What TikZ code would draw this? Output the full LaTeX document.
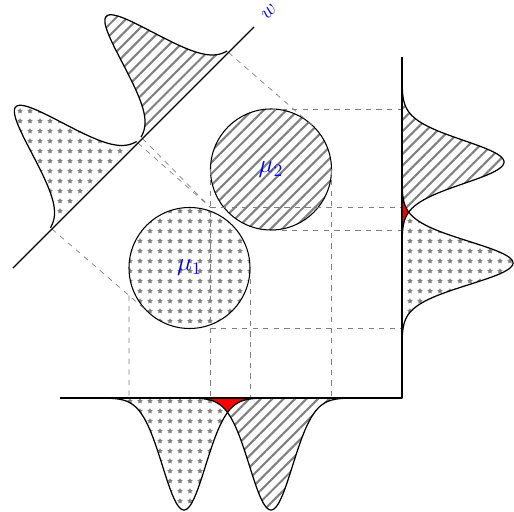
\documentclass[tikz,border=0pt]{standalone}
\usepackage{amsmath,amssymb}
\usetikzlibrary{patterns.meta}

% bell profiles: bottom axis, right axis and the w axis
\def\botA{plot[domain=-1.5:1.5, samples=90, smooth] ({-4.36+\x},{-2.24*bell(\x)})}
\def\botB{plot[domain=-1.5:1.5, samples=90, smooth] ({-2.62+\x},{-2.24*bell(\x)})}
\def\rgtA{plot[domain=-1.5:1.5, samples=90, smooth] ({2.22*bell(\x)},{2.70+\x})}
\def\rgtB{plot[domain=-1.5:1.5, samples=90, smooth] ({2.04*bell(\x)},{4.72+\x})}
\def\diaA{plot[domain=-1.22:1.22, samples=90, smooth] ({-7.78+(2.32+\x-2.24*bell(\x))*0.7071},{2.6+(2.32+\x+2.24*bell(\x))*0.7071})}
\def\diaB{plot[domain=-1.22:1.22, samples=90, smooth] ({-7.78+(4.88+\x-2.24*bell(\x))*0.7071},{2.6+(4.88+\x+2.24*bell(\x))*0.7071})}

\begin{document}
\begin{tikzpicture}[
  line join=round,
  declare function={bell(\t)=exp(-(\t)^2/(2*0.43^2));},
  axis/.style={line width=1.2pt},
  curve/.style={line width=0.7pt},
  guide/.style={dashed, gray, line width=0.4pt},
  ball/.style={circle, draw, line width=0.6pt, minimum size=2.42cm, inner sep=0pt, outer sep=0pt, text=blue, font=\Large},
  starfill/.style={pattern={Stars[distance=2mm, radius=1.7pt]}, pattern color=gray},
  hatchfill/.style={pattern={Lines[angle=45, distance=4.6pt, line width=1.2pt]}, pattern color=gray},
]
\useasboundingbox (-8.04,-2.26) rectangle (2.24,7.96);
\coordinate (o) at (0,0);
\coordinate (w0) at (-7.78,2.6);
\coordinate (w1) at (-2.96,7.42);
% ends of the bells on w
\coordinate (s1) at (-7.00,3.38);
\coordinate (s2) at (-5.28,5.10);
\coordinate (h1) at (-5.19,5.19);
\coordinate (h2) at (-3.47,6.91);

% filled bells
\fill[starfill] \botA -- cycle;
\fill[hatchfill] \botB -- cycle;
\fill[starfill] \rgtA -- cycle;
\fill[hatchfill] \rgtB -- cycle;
\fill[starfill] \diaA -- cycle;
\fill[hatchfill] \diaB -- cycle;
% overlaps
\begin{scope}
  \clip \botA -- cycle;
  \fill[red] \botB -- cycle;
\end{scope}
\begin{scope}
  \clip \rgtA -- cycle;
  \fill[red] \rgtB -- cycle;
\end{scope}

% the two classes
\node[ball, starfill] (mu1) at (-4.25,2.6) {$\mu_1$};
\node[ball, hatchfill] (mu2) at (-2.62,4.57) {$\mu_2$};

% guide lines
\coordinate (c) at (mu2.west |- mu1.north);
\coordinate (t1) at (mu1.225);
\coordinate (l1) at (mu1.west);
\coordinate (l1b) at (mu1.west |- o);
\coordinate (v1) at (intersection of s1--t1 and l1--l1b);
\draw[guide] (v1) -- (l1b);
\draw[guide] (mu2.west) -- (mu2.west |- o);
\draw[guide] (mu1.east) -- (mu1.east |- o);
\draw[guide] (mu2.east) -- (mu2.east |- o);
\draw[guide] (mu2.north) -- (mu2.north -| o);
\draw[guide] (c) -- (c -| o);
\draw[guide] (mu2.south) -- (mu2.south -| o);
\draw[guide] (mu2.west |- mu1.south) -- (mu1.south -| o);
\draw[guide] (s1) -- (t1);
\draw[guide] (s2) -- (c);
\draw[guide] (h1) -- (c);
\draw[guide] (h2) -- (mu2.45);

% outlines
\draw[curve] \botA;
\draw[curve] \botB;
\draw[curve] \rgtA;
\draw[curve] \rgtB;
\draw[curve] \diaA;
\draw[curve] \diaB;

% axes
\draw[axis] (-6.84,0) -- (o) -- (0,6.82);
\draw[curve] (w0) -- (w1);
\node[text=blue, rotate=45, font=\large] (wlab) at (-2.66,7.72) {$w$};
\end{tikzpicture}
\end{document}
